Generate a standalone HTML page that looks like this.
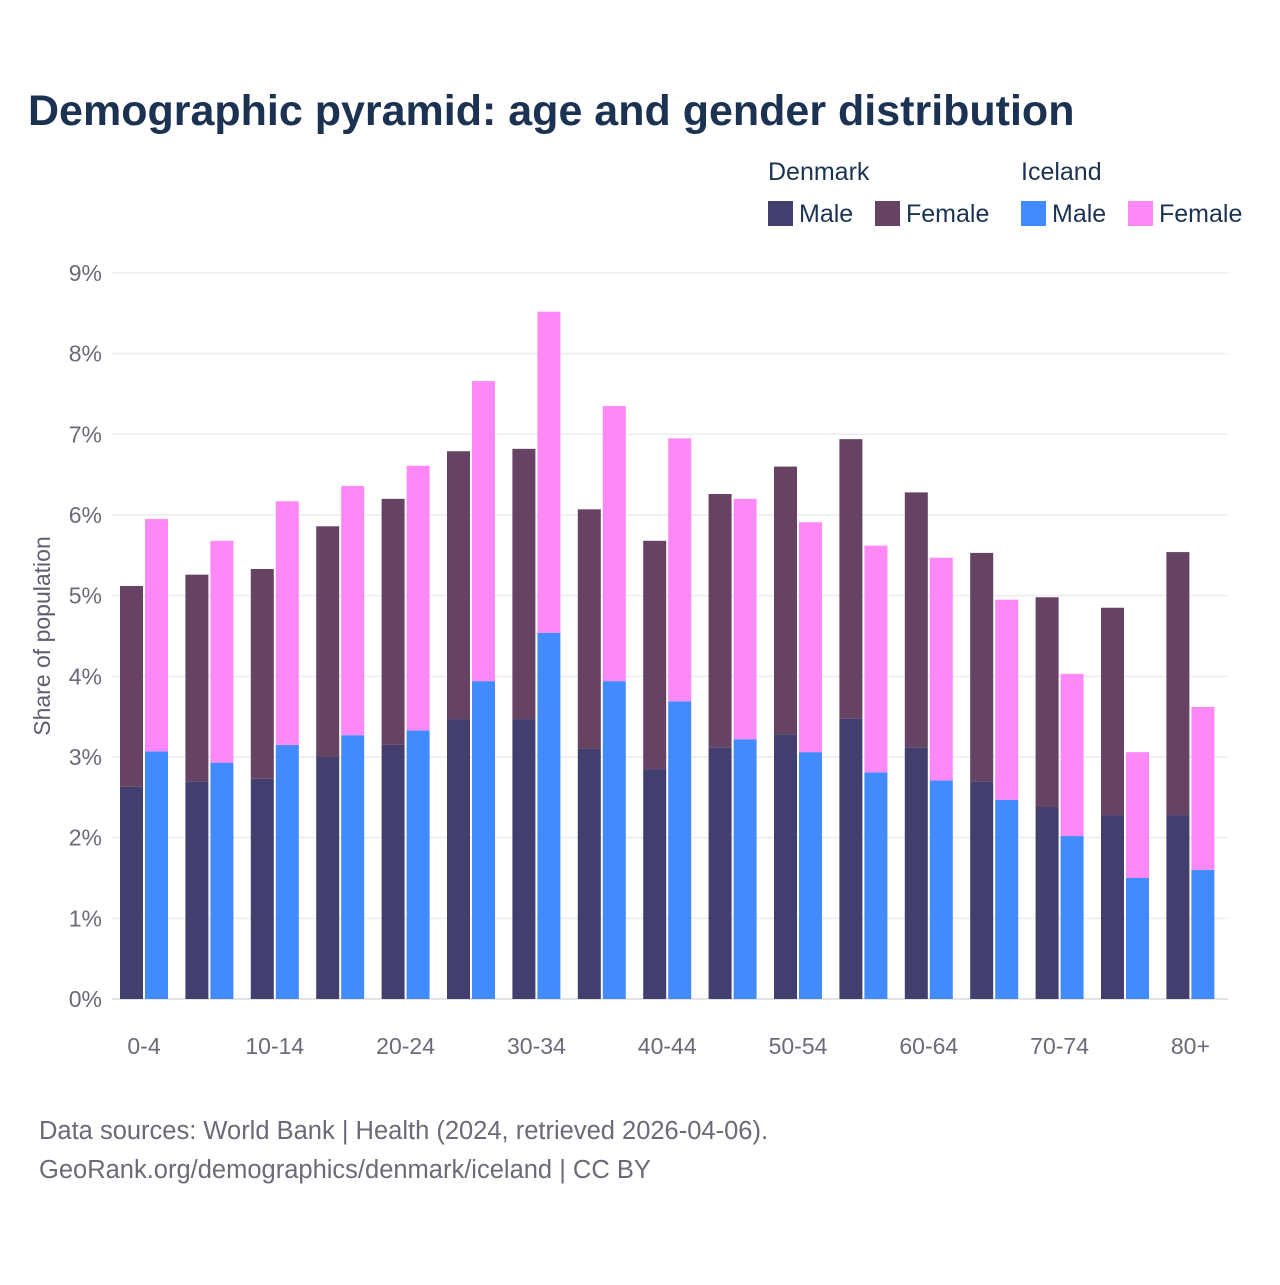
<!DOCTYPE html>
<html><head><meta charset="utf-8"><style>
body{margin:0;background:#fff;font-family:"Liberation Sans",sans-serif}
#wrap{position:relative;width:1280px;height:1280px}
svg text{font-family:"Liberation Sans",sans-serif}
</style></head><body>
<div id="wrap">
<svg id="chart" width="1280" height="1280">
<text x="28" y="125" font-size="43" font-weight="bold" fill="#1c3252">Demographic pyramid: age and gender distribution</text>
<g>
<text x="768" y="180" font-size="25" fill="#1c3252">Denmark</text>
<text x="1021" y="180" font-size="25" fill="#1c3252">Iceland</text>
<g><rect x="768" y="201" width="25" height="25" fill="#423f6e"/><text x="799" y="222" font-size="25" fill="#1c3252">Male</text></g>
<g><rect x="875" y="201" width="25" height="25" fill="#664263"/><text x="906" y="222" font-size="25" fill="#1c3252">Female</text></g>
<g><rect x="1021" y="201" width="25" height="25" fill="#418bff"/><text x="1052" y="222" font-size="25" fill="#1c3252">Male</text></g>
<g><rect x="1128" y="201" width="25" height="25" fill="#ff88f7"/><text x="1159" y="222" font-size="25" fill="#1c3252">Female</text></g>
</g>
<g id="grid"></g><g id="bars"></g><g id="xlabels"></g>
<text transform="translate(50,636) rotate(-90)" text-anchor="middle" font-size="23" fill="#5f5d70">Share of population</text>
<text x="39" y="1139" font-size="25.5" fill="#6b6a78">Data sources: World Bank | Health (2024, retrieved 2026-04-06).</text>
<text x="39" y="1178" font-size="25.5" fill="#6b6a78">GeoRank.org/demographics/denmark/iceland | CC BY</text>
</svg></div>
<script>
const categories=["0-4","5-9","10-14","15-19","20-24","25-29","30-34","35-39","40-44","45-49","50-54","55-59","60-64","65-69","70-74","75-79","80+"];
const dkMale=[2.63,2.70,2.73,3.00,3.15,3.47,3.47,3.10,2.85,3.12,3.28,3.48,3.12,2.70,2.38,2.28,2.28];
const dkFemale=[2.49,2.56,2.60,2.86,3.05,3.32,3.35,2.97,2.83,3.14,3.32,3.46,3.16,2.83,2.60,2.57,3.26];
const isMale=[3.07,2.93,3.15,3.27,3.33,3.94,4.54,3.94,3.69,3.22,3.06,2.81,2.71,2.47,2.02,1.50,1.60];
const isFemale=[2.88,2.75,3.02,3.09,3.28,3.72,3.98,3.41,3.26,2.98,2.85,2.81,2.76,2.48,2.01,1.56,2.02];
const yTicks=[0,1,2,3,4,5,6,7,8,9];
const NS="http://www.w3.org/2000/svg";
const y0=999,pxPer=80.67,x0=120,step=65.4,bw=23;
const Y=v=>y0-v*pxPer;
const X=i=>x0+i*step;
function mk(tag,attrs,parent){const e=document.createElementNS(NS,tag);for(const k in attrs)e.setAttribute(k,attrs[k]);parent.appendChild(e);return e;}
const grid=document.getElementById('grid'),bars=document.getElementById('bars'),xl=document.getElementById('xlabels');
yTicks.forEach(t=>{
 const l=mk('line',{x1:112,x2:1228,y1:Y(t),y2:Y(t),stroke:t===0?'#dcdce4':'#ebebf0','stroke-width':1.5},grid);
 
 
 const tx=mk('text',{x:102,y:Y(t)+8,'text-anchor':'end','font-size':23,fill:'#6b6a78'},grid);
 tx.textContent=t+'%';
 
 
});
categories.forEach((c,i)=>{
 const segs=[[X(i),0,dkMale[i],'#423f6e','dk-male'],[X(i),dkMale[i],dkFemale[i],'#664263','dk-female'],
  [X(i)+25,0,isMale[i],'#418bff','is-male'],[X(i)+25,isMale[i],isFemale[i],'#ff88f7','is-female']];
 segs.forEach(s=>{
  const r=mk('rect',{x:s[0],y:Y(s[1]+s[2]),width:bw,height:s[2]*pxPer,fill:s[3]},bars);
  
  
 });
 if(i%2===0){
  const t=mk('text',{x:X(i)+24,y:1054,'text-anchor':'middle','font-size':23,fill:'#6b6a78'},xl);
  t.textContent=c;
  
  
 }
});
</script>
</body></html>
